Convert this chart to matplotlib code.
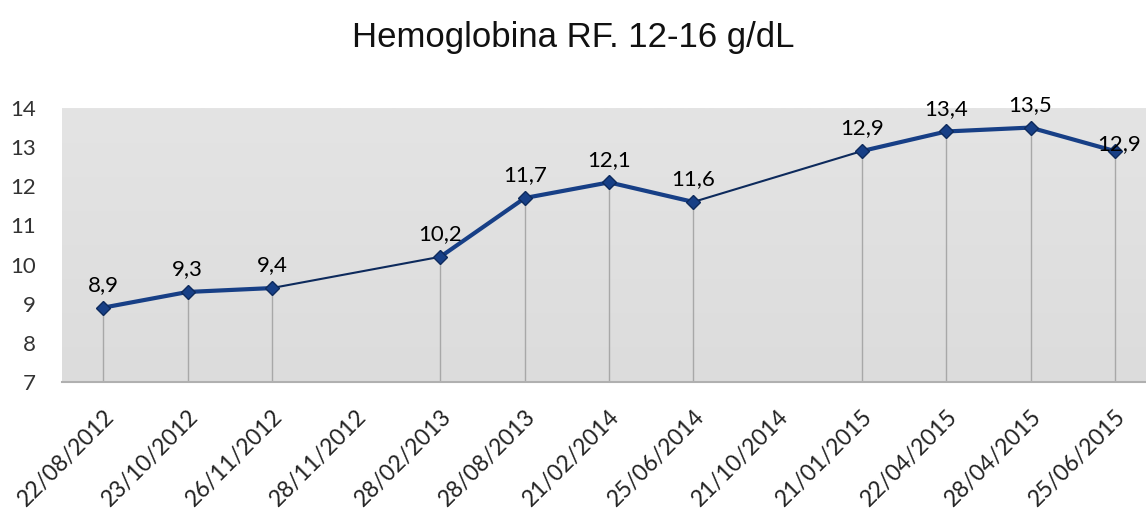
#! /usr/bin/env python3
# Hemoglobin line chart with drop lines, excel style

import numpy as np
import matplotlib
matplotlib.use("Agg")
import matplotlib.pyplot as plt

dates = ["22/08/2012", "23/10/2012", "26/11/2012", "28/11/2012", "28/02/2013",
         "28/08/2013", "21/02/2014", "25/06/2014", "21/10/2014", "21/01/2015",
         "22/04/2015", "28/04/2015", "25/06/2015"]
# None = no measurement that day (excel leaves a gap, line joins across it)
hb_values = [8.9, 9.3, 9.4, None, 10.2, 11.7, 12.1, 11.6, None, 12.9, 13.4, 13.5, 12.9]
y_ticks = [7, 8, 9, 10, 11, 12, 13, 14]
title = "Hemoglobina RF. 12-16 g/dL"

line_color = "#173f86"

fig = plt.figure(figsize=(11.46, 5.13), dpi=100)
ax = fig.add_axes([62 / 1146, 1 - 382 / 513, 1 - 62 / 1146, (382 - 108) / 513])

x = np.arange(len(dates))
y = np.array([np.nan if v is None else v for v in hb_values])
ok = ~np.isnan(y)

# subtle gray gradient behind the plot
grad = np.linspace(0, 1, 256).reshape(-1, 1)
ax.imshow(grad, extent=[0, 1, 0, 1], transform=ax.transAxes, aspect="auto",
          cmap=matplotlib.colors.LinearSegmentedColormap.from_list("bg", ["#e4e4e4", "#dcdcdc"]),
          zorder=0)

# drop lines
ax.vlines(x[ok], 7, y[ok], color="#a8a8a8", linewidth=1.0, zorder=1)

# thin line across the gaps, thick where consecutive
ax.plot(x[ok], y[ok], color="#0d2a5c", linewidth=1.5, zorder=2)
ax.plot(x, y, color=line_color, linewidth=3, marker="D", markersize=7,
        markerfacecolor=line_color, markeredgecolor="#0d2a5c", zorder=3)

for i, (xi, yi) in enumerate(zip(x[ok], y[ok])):
    # last label sits lower in the original (pushed against the edge)
    dy = 9 if i < ok.sum() - 1 else -2
    ax.annotate(("%.1f" % yi).replace(".", ","), (xi, yi), xytext=(3 if dy < 0 else 0, dy),
                textcoords="offset points", ha="center", va="bottom",
                fontsize=16, family="Lato", color="black", zorder=4)

ax.set_xlim(-0.49, 12.37)
ax.set_ylim(7, 14)
ax.set_yticks(y_ticks)
ax.set_yticklabels([str(t) for t in y_ticks], family="Lato", fontsize=16, color="#333333")
ax.set_xticks(x)
ax.set_xticklabels(dates, rotation=45, ha="right", rotation_mode="anchor",
                   family="Lato", fontsize=16.5, color="#222222")
ax.tick_params(axis="both", length=0)
ax.tick_params(axis="y", pad=19)
ax.tick_params(axis="x", pad=17)
for side in ["top", "right", "left"]:
    ax.spines[side].set_visible(False)
ax.spines["bottom"].set_color("#b0b0b0")
ax.spines["bottom"].set_linewidth(1.5)
ax.spines["bottom"].set_zorder(5)

fig.text(0.5, 1 - 38 / 513, title, ha="center", va="center",
         fontsize=25, family="Liberation Sans", color="#111111")

fig.savefig("out.png", dpi=100)
